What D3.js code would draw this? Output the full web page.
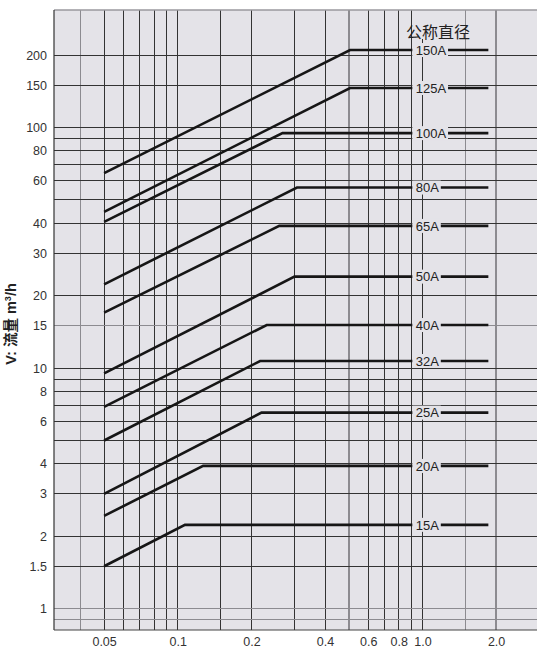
<!DOCTYPE html>
<html>
<head>
<meta charset="utf-8">
<title>流量</title>
<style>
  body{margin:0;background:#fff;}
  text{font-family:"Liberation Sans",Arial,sans-serif;fill:#222;}
  .tick text{font-size:12.5px;fill:#333;}
</style>
</head>
<body>
<svg width="537" height="651"></svg>
<script src="https://d3js.org/d3.v7.min.js"></script>
<script>
// 公称直径 -> 起点流量 (ΔP=0.05), 拐点 ΔP, 最大流量
const sizes = ['15A','20A','25A','32A','40A','50A','65A','80A','100A','125A','150A'];
const startFlow = [1.5, 2.43, 3.0, 5.0, 6.9, 9.5, 17, 22.3, 40.5, 44.6, 64.6];
const kneeDp = [0.107, 0.127, 0.22, 0.217, 0.231, 0.30, 0.26, 0.307, 0.268, 0.506, 0.506];
const maxFlow = [2.23, 3.92, 6.53, 10.7, 15.1, 24.0, 39.0, 56.3, 94.8, 146, 210];
const dpStart = 0.05, dpEnd = 1.86, labelDp = 0.94;

const xGrid = [0.04,0.05,0.06,0.07,0.08,0.09,0.1,0.15,0.2,0.3,0.4,0.5,0.6,0.7,0.8,0.9,1.0,1.5,2.0];
const xGridGray = [0.04,0.5,1.5,2.0];
const yGrid = [0.9,1,1.5,2,3,4,5,6,7,8,9,10,15,20,30,40,50,60,70,80,90,100,150,200];
const yGridGray = [0.9,1,15];
const xTicks = [0.05,0.1,0.2,0.4,0.6,0.8,1.0,2.0];
const xTickLabels = ['0.05','0.1','0.2','0.4','0.6','0.8','1.0','2.0'];
const yTicks = [1,1.5,2,3,4,6,8,10,15,20,30,40,60,80,100,150,200];

const svg = d3.select('svg');
const width = +svg.attr('width');
const height = +svg.attr('height');
const margin = {top:10, right:0, bottom:21, left:54};
const bg = '#e4e3e8';

const x = d3.scaleLog().domain([0.0312, 2.94]).range([margin.left, width - margin.right]);
const y = d3.scaleLog().domain([0.815, 308]).range([height - margin.bottom, margin.top]);
const [x0, x1] = x.range();
const [y0, y1] = y.range();

svg.append('rect').attr('x', x0).attr('y', y1).attr('width', x1 - x0).attr('height', y0 - y1).attr('fill', bg);

const titleY = 38;

// grid
const grid = svg.append('g').attr('shape-rendering', 'crispEdges');
grid.selectAll('line.v').data(xGrid).enter().append('line')
  .attr('x1', d => x(d)).attr('x2', d => x(d))
  .attr('y1', d => d === 1.0 ? titleY + 1 : y1).attr('y2', y0)
  .attr('stroke', d => xGridGray.includes(d) ? '#8c8b90' : '#333')
  .attr('stroke-width', d => xGridGray.includes(d) ? 1.6 : 1);
grid.selectAll('line.h').data(yGrid).enter().append('line')
  .attr('x1', x0).attr('x2', x1)
  .attr('y1', d => y(d)).attr('y2', d => y(d))
  .attr('stroke', d => yGridGray.includes(d) ? '#8c8b90' : '#333')
  .attr('stroke-width', d => yGridGray.includes(d) ? 1.5 : 1);

// frame
svg.append('line').attr('x1', x0).attr('x2', x1).attr('y1', y1).attr('y2', y1).attr('stroke', '#9a999e').attr('stroke-width', 1.5);
svg.append('line').attr('x1', x0).attr('x2', x0).attr('y1', y1).attr('y2', y0).attr('stroke', '#333').attr('stroke-width', 1.2);
svg.append('line').attr('x1', x0).attr('x2', x1).attr('y1', y0).attr('y2', y0).attr('stroke', '#444').attr('stroke-width', 1);

// axes (labels only)
const xAxis = svg.append('g').attr('transform', `translate(0,${y0})`)
  .call(d3.axisBottom(x).tickValues(xTicks).tickFormat((d, i) => xTickLabels[i]).tickSize(0).tickPadding(7));
const yAxis = svg.append('g').attr('transform', `translate(${x0},0)`)
  .call(d3.axisLeft(y).tickValues(yTicks).tickFormat(d => String(d)).tickSize(0).tickPadding(7));
[xAxis, yAxis].forEach(a => a.select('.domain').remove());
svg.selectAll('.tick text').attr('font-family', null).attr('font-size', null).attr('fill', null);

// series
const series = sizes.map((s, i) => ({
  name: s,
  pts: [[dpStart, startFlow[i]], [kneeDp[i], maxFlow[i]], [dpEnd, maxFlow[i]]]
}));
const line = d3.line().x(d => x(d[0])).y(d => y(d[1]));
svg.append('g').selectAll('path').data(series).enter().append('path')
  .attr('d', d => line(d.pts))
  .attr('fill', 'none').attr('stroke', '#161616').attr('stroke-width', 2.6);

// inline labels with background
const lab = svg.append('g').selectAll('g').data(series).enter().append('g')
  .attr('transform', d => `translate(${x(labelDp)},${y(d.pts[2][1])})`);
lab.append('text').text(d => d.name)
  .attr('font-size', 13).attr('dy', '0.36em').attr('fill', '#222');
lab.each(function() {
  const g = d3.select(this);
  const bb = g.select('text').node().getBBox();
  g.insert('rect', 'text')
    .attr('x', bb.x - 3.5).attr('y', -7).attr('width', bb.width + 5).attr('height', 14)
    .attr('fill', bg);
});

// titles
svg.append('text').attr('x', 438).attr('y', titleY)
  .attr('text-anchor', 'middle').attr('font-size', 16)
  .style('font-family', '"Noto Sans CJK SC", sans-serif').attr('fill', '#222')
  .text('公称直径');

const yt = svg.append('text')
  .attr('transform', 'translate(16,324) rotate(-90)')
  .attr('text-anchor', 'middle').attr('font-size', 14.5).attr('font-weight', 'bold').attr('fill', '#222');
yt.append('tspan').text('V: ');
yt.append('tspan').style('font-family', '"Noto Sans CJK SC", sans-serif').text('流量');
yt.append('tspan').text(' m');
yt.append('tspan').attr('font-size', 9).attr('dy', -5).text('3');
yt.append('tspan').attr('dy', 5).text('/h');
</script>
</body>
</html>
